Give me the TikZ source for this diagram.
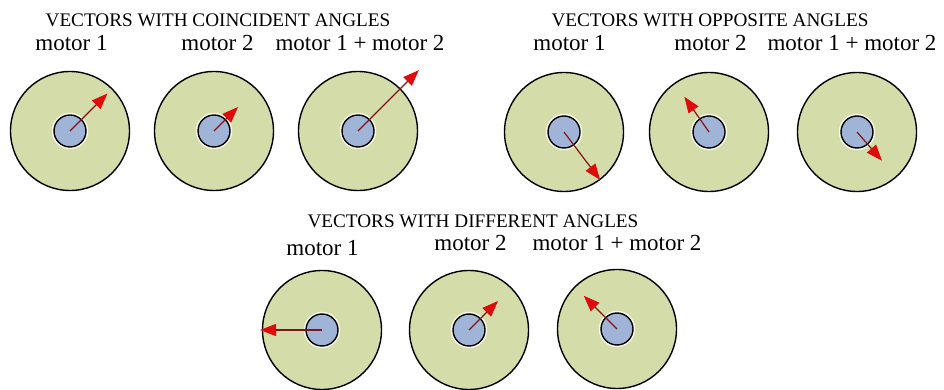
\documentclass[tikz,border=0pt]{standalone}
\usepackage{fontspec}
\setmainfont{Liberation Serif}
\usepackage{xcolor}
\usetikzlibrary{arrows.meta}
\definecolor{diskgreen}{RGB}{212,220,170}
\definecolor{hubblue}{RGB}{160,180,216}
\definecolor{shaftred}{RGB}{130,20,20}
\definecolor{tipred}{RGB}{225,10,10}
\definecolor{halo}{RGB}{248,248,232}

\begin{document}
\begin{tikzpicture}[
  x=1pt, y=1pt,
  disk/.style={circle, draw=black, line width=1.4pt, fill=diskgreen, minimum size=119pt, inner sep=0pt},
  hub/.style={circle, draw=black, line width=1.4pt, fill=hubblue, minimum size=32pt, inner sep=0pt, preaction={draw=halo, line width=4.5pt}},
  vec/.style={draw=shaftred, line width=1.2pt, -{Triangle[length=16pt, width=12pt, color=tipred]}},
  title/.style={anchor=base, font=\fontsize{19.2}{21}\selectfont},
  lbl/.style={anchor=base, font=\fontsize{23}{25}\selectfont}
]
\useasboundingbox (0,0) rectangle (944,390);
% coincident angles
\node[title] (ttlco) at (218,363.5) {VECTORS WITH COINCIDENT ANGLES};
\node[lbl] (lco1) at (71.5,339) {motor 1};
\node[lbl] (lco2) at (217.5,339) {motor 2};
\node[lbl] (lcos) at (360,339) {motor 1 + motor 2};
\node[disk] (dco1) at (70,259) {};
\node[disk] (dco2) at (214,259) {};
\node[disk] (dcos) at (358,259) {};
\node[hub] (hco1) at (dco1) {};
\node[hub] (hco2) at (dco2) {};
\node[hub] (hcos) at (dcos) {};
\coordinate (tco1) at ([shift={(45:53)}]hco1.center);
\coordinate (tco2) at ([shift={(45:34)}]hco2.center);
\coordinate (tcos) at ([shift={(45:86)}]hcos.center);
\draw[vec] (hco1.center) -- (tco1);
\draw[vec] (hco2.center) -- (tco2);
\draw[vec] (hcos.center) -- (tcos);
% opposite angles
\node[title] (ttlop) at (710,363.5) {VECTORS WITH OPPOSITE ANGLES};
\node[lbl] (lop1) at (569.5,339) {motor 1};
\node[lbl] (lop2) at (710.5,339) {motor 2};
\node[lbl] (lops) at (852,339) {motor 1 + motor 2};
\node[disk] (dop1) at (564,258) {};
\node[disk] (dop2) at (709,258) {};
\node[disk] (dops) at (857,258) {};
\node[hub] (hop1) at (dop1) {};
\node[hub] (hop2) at (dop2) {};
\node[hub] (hops) at (dops) {};
\coordinate (top1) at ([shift={(-53:60)}]hop1.center);
\coordinate (top2) at ([shift={(125:43)}]hop2.center);
\coordinate (tops) at ([shift={(-49:38)}]hops.center);
\draw[vec] (hop1.center) -- (top1);
\draw[vec] (hop2.center) -- (top2);
\draw[vec] (hops.center) -- (tops);
% different angles
\node[title] (ttldf) at (473,162) {VECTORS WITH DIFFERENT ANGLES};
\node[lbl] (ldf1) at (322.5,134) {motor 1};
\node[lbl] (ldf2) at (470.5,139) {motor 2};
\node[lbl] (ldfs) at (617,139) {motor 1 + motor 2};
\node[disk] (ddf1) at (322,60) {};
\node[disk] (ddf2) at (469,60) {};
\node[disk] (ddfs) at (617,61) {};
\node[hub] (hdf1) at (ddf1) {};
\node[hub] (hdf2) at (ddf2) {};
\node[hub] (hdfs) at (ddfs) {};
\coordinate (tdf1) at ([shift={(180:62)}]hdf1.center);
\coordinate (tdf2) at ([shift={(45:41)}]hdf2.center);
\coordinate (tdfs) at ([shift={(135:47)}]hdfs.center);
\draw[vec] (hdf1.center) -- (tdf1);
\draw[vec] (hdf2.center) -- (tdf2);
\draw[vec] (hdfs.center) -- (tdfs);
\end{tikzpicture}
\end{document}
